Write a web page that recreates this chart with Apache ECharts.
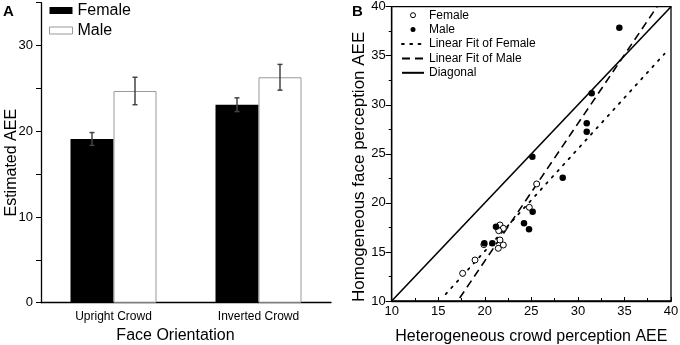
<!DOCTYPE html>
<html>
<head>
<meta charset="utf-8">
<script src="https://cdn.jsdelivr.net/npm/echarts@6/dist/echarts.min.js"></script>
<style>
  html, body { margin: 0; padding: 0; background: #fff; }
  #main { width: 680px; height: 345px; }
</style>
</head>
<body>
<div id="main"></div>
<script>
// panel A - bars
var orientations = ["Upright Crowd", "Inverted Crowd"];
var femaleMeans = [19.1, 23.1];
var femaleErrors = [0.75, 0.8];
var maleMeans = [24.7, 26.3];
var maleErrors = [1.6, 1.5];

// panel B - scatter [heterogeneous, homogeneous]
var femalePoints = [
  [25.57, 21.93], [24.78, 19.55], [21.63, 17.75], [21.99, 17.41],
  [21.49, 17.17], [21.63, 16.22], [21.99, 15.71], [21.45, 15.37],
  [19.9, 15.75], [18.95, 14.18], [17.62, 12.82]
];
var malePoints = [
  [34.45, 37.86], [31.48, 31.17], [30.95, 28.11], [30.95, 27.26],
  [25.11, 24.71], [28.37, 22.57], [25.14, 19.1], [24.21, 17.92],
  [24.75, 17.31], [21.2, 17.57], [19.95, 15.88], [20.81, 15.88]
];
// fit lines, end points
var femaleFit = [[15.8, 10.7], [39.3, 35.2]];
var maleFit = [[17.3, 10.3], [38.5, 40]];
var diagonal = [[10, 10], [40, 40]];

var FONT = "Liberation Sans";

// error bars drawn on the category axis, shifted onto each bar
function errorBars(means, errors, shift) {
  return {
    type: "custom",
    xAxisIndex: 0,
    yAxisIndex: 0,
    z: 5,
    silent: true,
    data: means.map(function (m, i) {
      return [i, m - errors[i], m + errors[i]];
    }),
    encode: { x: 0, y: [1, 2] },
    renderItem: function (params, api) {
      var lo = api.coord([api.value(0), api.value(1)]);
      var hi = api.coord([api.value(0), api.value(2)]);
      var x = lo[0] + shift;
      var st = { stroke: "#444", lineWidth: 1.5 };
      return {
        type: "group",
        children: [
          { type: "line", shape: { x1: x, y1: lo[1], x2: x, y2: hi[1] }, style: st },
          { type: "line", shape: { x1: x - 2.5, y1: hi[1], x2: x + 2.5, y2: hi[1] }, style: st },
          { type: "line", shape: { x1: x - 2.5, y1: lo[1], x2: x + 2.5, y2: lo[1] }, style: st }
        ]
      };
    }
  };
}

// legend entry for a plain line (hide the marker the line icon adds)
function lineEntry(name) {
  return { name: name, itemStyle: { color: "transparent", borderWidth: 0, opacity: 0 } };
}

var chart = echarts.init(document.getElementById("main"));
var option = {
  backgroundColor: "#fff",
  animation: false,
  textStyle: { fontFamily: FONT, color: "#000" },
  graphic: [
    { type: "text", left: 3, top: 4, style: { text: "A", font: "bold 15px " + FONT, fill: "#000" } },
    { type: "text", left: 352, top: 4, style: { text: "B", font: "bold 15px " + FONT, fill: "#000" } }
  ],
  legend: [
    {
      orient: "vertical",
      left: 49,
      top: 1,
      padding: 0,
      itemWidth: 23,
      itemHeight: 7,
      itemGap: 1,
      textStyle: { fontSize: 16, lineHeight: 19, fontFamily: FONT, color: "#000" },
      data: [
        { name: "Female", icon: "rect", itemStyle: { color: "#000", borderWidth: 0 } },
        { name: "Male", icon: "rect", itemStyle: { color: "#fff", borderColor: "#999", borderWidth: 1 } }
      ]
    },
    {
      orient: "vertical",
      left: 401,
      top: 8,
      padding: 0,
      itemWidth: 22,
      itemHeight: 5,
      itemGap: 0,
      textStyle: { fontSize: 12, lineHeight: 14.4, fontFamily: FONT, color: "#000" },
      data: [
        { name: "Female", icon: "circle", itemStyle: { color: "#fff", borderColor: "#000", borderWidth: 1 } },
        { name: "Male", icon: "circle", itemStyle: { color: "#000", borderWidth: 0 } },
        lineEntry("Linear Fit of Female"),
        lineEntry("Linear Fit of Male"),
        lineEntry("Diagonal")
      ]
    }
  ],
  grid: [
    { left: 41, top: 2.7, width: 290, height: 300, outerBoundsMode: "none" },
    {
      left: 391.7, top: 6.7, width: 279.3, height: 294.3, outerBoundsMode: "none",
      show: true, borderColor: "#000", borderWidth: 1.3
    }
  ],
  xAxis: [
    {
      gridIndex: 0,
      type: "category",
      data: orientations,
      axisLine: { lineStyle: { color: "#000", width: 1.3 } },
      axisTick: { show: false },
      axisLabel: { fontSize: 12, color: "#000", margin: 8 },
      name: "Face Orientation",
      nameLocation: "middle",
      nameGap: 22,
      nameTextStyle: { fontSize: 16, color: "#000", padding: [0, 21, 0, 0] }
    },
    {
      gridIndex: 1,
      type: "value",
      min: 10,
      max: 40,
      interval: 5,
      axisLine: { lineStyle: { color: "#000", width: 1.3 } },
      axisTick: { inside: true, length: 4, lineStyle: { color: "#000" } },
      minorTick: { show: true, splitNumber: 2, length: 3, lineStyle: { color: "#000" } },
      axisLabel: { fontSize: 13, color: "#000", margin: 4 },
      splitLine: { show: false },
      name: "Heterogeneous crowd perception AEE",
      nameLocation: "middle",
      nameGap: 28,
      nameTextStyle: { fontSize: 16, color: "#000" }
    }
  ],
  yAxis: [
    {
      gridIndex: 0,
      type: "value",
      min: 0,
      max: 35,
      interval: 5,
      axisLine: { show: true, lineStyle: { color: "#000", width: 1.3 } },
      axisTick: { show: true, length: 5, lineStyle: { color: "#000" } },
      axisLabel: {
        fontSize: 13,
        color: "#000",
        margin: 8,
        formatter: function (v) { return v % 10 === 0 ? v : ""; }
      },
      splitLine: { show: false },
      name: "Estimated AEE",
      nameLocation: "middle",
      nameGap: 21,
      nameMoveOverlap: false,
      nameTextStyle: { fontSize: 16, color: "#000", padding: [0, 20, 0, 0] }
    },
    {
      gridIndex: 1,
      type: "value",
      min: 10,
      max: 40,
      interval: 5,
      axisLine: { show: true, lineStyle: { color: "#000", width: 1.3 } },
      axisTick: { show: true, length: 6, lineStyle: { color: "#000" } },
      minorTick: { show: true, splitNumber: 2, length: 3, lineStyle: { color: "#000" } },
      axisLabel: { fontSize: 13, color: "#000", margin: 6 },
      splitLine: { show: false },
      name: "Homogeneous face perception AEE",
      nameLocation: "middle",
      nameGap: 21,
      nameTextStyle: { fontSize: 17, color: "#000", padding: [0, 26, 0, 0] }
    }
  ],
  series: [
    {
      name: "Female",
      type: "bar",
      xAxisIndex: 0,
      yAxisIndex: 0,
      barWidth: 43,
      barGap: "0%",
      data: femaleMeans,
      itemStyle: { color: "#000" }
    },
    {
      name: "Male",
      type: "bar",
      xAxisIndex: 0,
      yAxisIndex: 0,
      barWidth: 43,
      barGap: "0%",
      data: maleMeans,
      itemStyle: { color: "#fff", borderColor: "#999", borderWidth: 1 }
    },
    errorBars(femaleMeans, femaleErrors, -21.5),
    errorBars(maleMeans, maleErrors, 21.5),
    {
      name: "Linear Fit of Female",
      type: "line",
      xAxisIndex: 1,
      yAxisIndex: 1,
      symbol: "none",
      data: femaleFit,
      itemStyle: { color: "#000" },
      lineStyle: { color: "#000", width: 1.8, type: [1.8, 6.5], cap: "round" }
    },
    {
      name: "Linear Fit of Male",
      type: "line",
      xAxisIndex: 1,
      yAxisIndex: 1,
      symbol: "none",
      data: maleFit,
      itemStyle: { color: "#000" },
      lineStyle: { color: "#000", width: 1.6, type: [8, 5] }
    },
    {
      name: "Diagonal",
      type: "line",
      xAxisIndex: 1,
      yAxisIndex: 1,
      symbol: "none",
      data: diagonal,
      itemStyle: { color: "#000" },
      lineStyle: { color: "#000", width: 1.6 }
    },
    {
      name: "Female",
      type: "scatter",
      xAxisIndex: 1,
      yAxisIndex: 1,
      symbolSize: 6,
      data: femalePoints,
      itemStyle: { color: "#fff", borderColor: "#000", borderWidth: 1, opacity: 1 },
      z: 3
    },
    {
      name: "Male",
      type: "scatter",
      xAxisIndex: 1,
      yAxisIndex: 1,
      symbolSize: 6.5,
      data: malePoints,
      itemStyle: { color: "#000", opacity: 1 },
      z: 4
    }
  ]
};
chart.setOption(option);
window.addEventListener("resize", function () {
  chart.resize();
});
</script>
</body>
</html>
